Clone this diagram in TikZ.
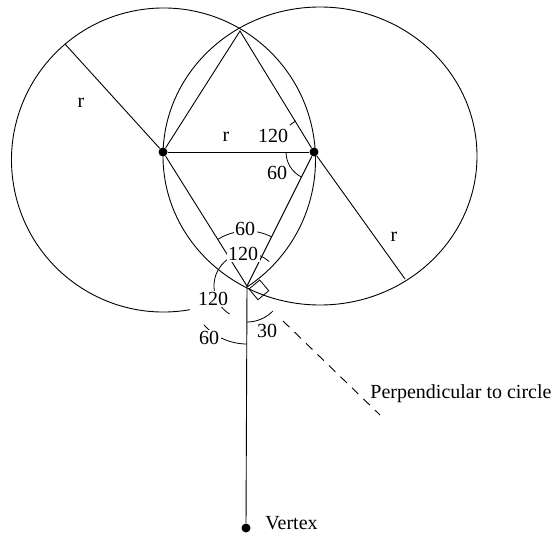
\documentclass[tikz,border=0pt]{standalone}
\usepackage{fontspec}
\setmainfont{Liberation Serif}
\usetikzlibrary{positioning,calc}

\begin{document}
\begin{tikzpicture}[
    x=1pt, y=-1pt,
    line width=0.9pt,
    font=\fontsize{20}{24}\selectfont,
    dot/.style={circle, fill, inner sep=0pt, minimum size=9pt},
    anglelabel/.style={fill=white, inner sep=1.5pt},
    anglemark/.style={line width=0.8pt},
    textlabel/.style={inner sep=0pt},
    perp/.style={dash pattern=on 9pt off 7pt},
]
\useasboundingbox (0,0) rectangle (558,535);

% centres, intersections and end points
\coordinate (cl) at (163.5,160);
\coordinate (cr) at (320,156);
\coordinate (top) at (240,31);
\coordinate (bot) at (247,286);
\coordinate (rl) at (65,44);
\coordinate (rr) at (405,279);
\coordinate (p1) at (283,321);
\coordinate (p2) at (380,415);

\node[dot] (cenl) at (163,152) {};
\node[dot] (cenr) at (314,152) {};
\node[dot] (vtx) at (246,528) {};

% circles
\draw (cl) ++(80:152) arc[start angle=80, end angle=416.5, radius=152];
\draw (cr) ellipse[x radius=157, y radius=149];

% lines
\draw (cenl) -- (cenr);
\draw (cenl) -- (top) -- (cenr);
\draw (cenl) -- (bot) -- (cenr);
\draw (cenl) -- (rl);
\draw (cenr) -- (rr);
\draw (bot) -- (vtx);
\draw[perp] (p1) -- (p2);

% right angle
\draw[anglemark] (249,289) -- ++(-40:14) -- ++(50:14) -- ++(140:14) -- cycle;

% angle marks
\draw[anglemark] (bot) ++(238:55) arc[start angle=238, end angle=297, radius=55];
\draw[anglemark] (bot) ++(122:33) arc[start angle=122, end angle=312, radius=33];
\draw[anglemark] (bot) ++(90:58) arc[start angle=90, end angle=138, radius=58];
\draw[anglemark] (bot) ++(44:36) arc[start angle=44, end angle=90, radius=36];
\draw[anglemark] (cenr.center) ++(117:28) arc[start angle=117, end angle=180, radius=28];
\draw[anglemark] (cenr.center) ++(228:36) arc[start angle=228, end angle=240, radius=36];

% labels
\node[anglelabel] (a60t) at (245,229) {60};
\node[anglelabel] (a120t) at (243,254) {120};
\node[anglelabel] (a120l) at (213,299) {120};
\node[anglelabel] (a60l) at (209,338) {60};
\node[anglelabel] (a30) at (267,331) {30};
\node[anglelabel] (a120r) at (273,136) {120};
\node[anglelabel] (a60r) at (277,173) {60};

\node[textlabel] (rad1) at (81,103) {r};
\node[textlabel] (rad2) at (226,137) {r};
\node[textlabel] (rad3) at (394,237) {r};

\node[textlabel, anchor=base west] (perptext) at (370,398) {Perpendicular to circle};
\node[textlabel, anchor=base west] (vtxtext) at (265,529) {Vertex};

\end{tikzpicture}
\end{document}
